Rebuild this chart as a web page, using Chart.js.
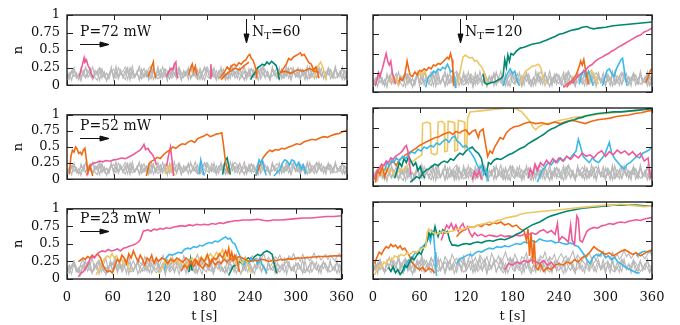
<!DOCTYPE html>
<html>
<head>
<meta charset="utf-8">
<script src="https://cdn.jsdelivr.net/npm/chart.js@4.4.1/dist/chart.umd.min.js"></script>
<style>
  body { margin: 0; background: #fff; }
  #fig { position: relative; width: 680px; height: 325px; overflow: hidden; font-family: "DejaVu Serif", serif; }
  #fig canvas { position: absolute; }
  .lab { position: absolute; font-size: 14px; line-height: 14px; color: #111; white-space: nowrap; }
  .lab .sub { font-size: 10px; position: relative; top: 3px; }
  #arrows { position: absolute; left: 0; top: 0; }
</style>
</head>
<body>
<div id="fig">
  <canvas id="c1" width="365" height="100" style="left:0;top:0"></canvas>
  <canvas id="c2" width="340" height="100" style="left:340px;top:0"></canvas>
  <canvas id="c3" width="365" height="94" style="left:0;top:100px"></canvas>
  <canvas id="c4" width="340" height="94" style="left:340px;top:100px"></canvas>
  <canvas id="c5" width="365" height="131" style="left:0;top:194px"></canvas>
  <canvas id="c6" width="340" height="131" style="left:340px;top:194px"></canvas>

  <div class="lab" style="left:80px;top:24px">P=72 mW</div>
  <div class="lab" style="left:80px;top:118px">P=52 mW</div>
  <div class="lab" style="left:80px;top:211px">P=23 mW</div>
  <div class="lab" style="left:252px;top:24px">N<span class="sub">T</span>=60</div>
  <div class="lab" style="left:465px;top:24px">N<span class="sub">T</span>=120</div>

  <svg id="arrows" width="680" height="325">
    <g stroke="#111" stroke-width="1" fill="#111">
      <line x1="80" y1="44.5" x2="104" y2="44.5"/><polygon points="109,44.5 100,42 100,47"/>
      <line x1="80" y1="138.5" x2="104" y2="138.5"/><polygon points="109,138.5 100,136 100,141"/>
      <line x1="80" y1="231.5" x2="104" y2="231.5"/><polygon points="109,231.5 100,229 100,234"/>
      <line x1="246.5" y1="19" x2="246.5" y2="38"/><polygon points="246.5,43 244,34 249,34"/>
      <line x1="460.5" y1="19" x2="460.5" y2="38"/><polygon points="460.5,43 458,34 463,34"/>
    </g>
  </svg>
</div>

<script>
// axis ticks and their labels
const xTicks = [0, 60, 120, 180, 240, 300, 360];
const xLabels = ['0', '60', '120', '180', '240', '300', '360'];
const yTicks = [0, 0.25, 0.5, 0.75, 1];
const yLabels = ['0', '0.25', '0.5', '0.75', '1'];

// gray background traces, one value every 3 s
const grayA = [
  0.10,0.18,0.07,0.22,0.13,0.09,0.20,0.15,0.26,0.11,
  0.17,0.08,0.21,0.14,0.24,0.10,0.19,0.06,0.16,0.23,
  0.12,0.27,0.09,0.18,0.13,0.21,0.08,0.25,0.15,0.11,
  0.20,0.07,0.17,0.24,0.12,0.19,0.09,0.22,0.14,0.26,
  0.10,0.16,0.23,0.08,0.20,0.13,0.27,0.11,0.18,0.07,
  0.21,0.15,0.25,0.09,0.17,0.12,0.22,0.08,0.19,0.26,
  0.13,0.10,0.24,0.16,0.07,0.20,0.14,0.23,0.11,0.18,
  0.09,0.25,0.15,0.21,0.08,0.17,0.27,0.12,0.19,0.10,
  0.22,0.14,0.07,0.24,0.16,0.11,0.20,0.09,0.26,0.13,
  0.18,0.08,0.23,0.15,0.21,0.10,0.17,0.25,0.12,0.19,
  0.07,0.22,0.14,0.27,0.11,0.16,0.09,0.24,0.18,0.13,
  0.20,0.08,0.25,0.15,0.10,0.22,0.17,0.12,0.26,0.09,
  0.18];
const grayB = [
  0.14,0.08,0.19,0.25,0.10,0.16,0.06,0.21,0.12,0.18,
  0.24,0.09,0.15,0.20,0.07,0.23,0.13,0.17,0.11,0.26,
  0.08,0.19,0.14,0.22,0.10,0.16,0.25,0.07,0.20,0.12,
  0.18,0.27,0.09,0.15,0.21,0.11,0.24,0.08,0.17,0.13,
  0.22,0.10,0.19,0.06,0.25,0.14,0.18,0.09,0.23,0.16,
  0.11,0.20,0.08,0.26,0.13,0.19,0.10,0.24,0.15,0.07,
  0.21,0.17,0.12,0.25,0.09,0.18,0.22,0.11,0.16,0.08,
  0.27,0.13,0.20,0.10,0.24,0.15,0.07,0.19,0.12,0.23,
  0.16,0.09,0.21,0.14,0.26,0.10,0.18,0.08,0.22,0.15,
  0.12,0.25,0.09,0.19,0.13,0.24,0.07,0.20,0.16,0.11,
  0.23,0.14,0.18,0.08,0.26,0.12,0.21,0.10,0.17,0.24,
  0.09,0.19,0.15,0.22,0.11,0.27,0.13,0.18,0.08,0.21,
  0.16];
const grayC = [
  0.09,0.15,0.21,0.12,0.18,0.08,0.24,0.14,0.10,0.20,
  0.16,0.26,0.11,0.07,0.19,0.23,0.13,0.17,0.09,0.22,
  0.15,0.10,0.25,0.18,0.12,0.08,0.20,0.14,0.27,0.11,
  0.17,0.09,0.23,0.13,0.19,0.07,0.16,0.24,0.10,0.21,
  0.14,0.26,0.12,0.18,0.09,0.22,0.15,0.11,0.25,0.08,
  0.19,0.13,0.23,0.10,0.17,0.27,0.12,0.20,0.08,0.16,
  0.24,0.11,0.18,0.14,0.21,0.09,0.26,0.13,0.07,0.19,
  0.15,0.22,0.10,0.17,0.25,0.12,0.20,0.08,0.23,0.14,
  0.11,0.18,0.26,0.09,0.16,0.21,0.13,0.07,0.24,0.19,
  0.10,0.15,0.22,0.12,0.27,0.17,0.09,0.20,0.14,0.25,
  0.11,0.18,0.08,0.23,0.13,0.21,0.16,0.10,0.26,0.12,
  0.19,0.14,0.22,0.09,0.17,0.24,0.11,0.20,0.15,0.08,
  0.13];
const grayD = [
  0.12,0.20,0.15,0.26,0.18,0.10,0.22,0.28,0.16,0.24,
  0.19,0.30,0.14,0.23,0.27,0.17,0.21,0.29,0.13,0.25,
  0.20,0.31,0.18,0.24,0.15,0.28,0.22,0.33,0.19,0.26,
  0.17,0.29,0.23,0.20,0.32,0.25,0.18,0.27,0.22,0.30,
  0.16,0.24,0.34,0.21,0.28,0.19,0.31,0.25,0.22,0.29,
  0.18,0.33,0.26,0.23,0.30,0.20,0.27,0.35,0.24,0.28,
  0.21,0.32,0.25,0.19,0.29,0.26,0.34,0.22,0.28,0.31,
  0.24,0.20,0.30,0.27,0.35,0.23,0.29,0.25,0.32,0.21,
  0.28,0.33,0.26,0.30,0.22,0.29,0.36,0.25,0.31,0.27,
  0.23,0.32,0.28,0.34,0.26,0.30,0.24,0.33,0.29,0.36,
  0.27,0.31,0.25,0.35,0.28,0.32,0.26,0.30,0.37,0.29,
  0.33,0.27,0.31,0.35,0.28,0.34,0.30,0.26,0.32,0.36,
  0.30];
const grayE = [
  0.16,0.12,0.19,0.22,0.14,0.09,0.12,0.18,0.24,0.20,
  0.13,0.10,0.15,0.21,0.25,0.17,0.11,0.08,0.14,0.19,
  0.23,0.18,0.12,0.16,0.20,0.26,0.21,0.14,0.10,0.13,
  0.18,0.22,0.17,0.11,0.15,0.24,0.27,0.19,0.13,0.09,
  0.12,0.17,0.23,0.20,0.15,0.10,0.14,0.21,0.25,0.18,
  0.12,0.16,0.20,0.24,0.19,0.13,0.08,0.12,0.18,0.22,
  0.26,0.20,0.15,0.11,0.14,0.19,0.23,0.17,0.12,0.10,
  0.15,0.21,0.26,0.22,0.16,0.12,0.09,0.14,0.20,0.24,
  0.18,0.13,0.17,0.22,0.27,0.21,0.15,0.11,0.13,0.19,
  0.24,0.20,0.14,0.10,0.16,0.21,0.25,0.19,0.12,0.15,
  0.20,0.23,0.17,0.11,0.09,0.14,0.20,0.26,0.22,0.16,
  0.12,0.18,0.24,0.21,0.15,0.10,0.13,0.19,0.23,0.17,
  0.14];

// P=72 mW, N_T=60  ([t, n] pairs)
const tlPink1 = [[16,0.12],[18,0.22],[20,0.3],[22,0.39],[23,0.33],[25,0.36],[27,0.28],[29,0.24],[31,0.17],[34,0.1]];
const tlOrange1 = [[104,0.12],[107,0.2],[109,0.27],[111,0.33],[112,0.2],[114,0.1]];
const tlPink2 = [[128,0.12],[131,0.2],[134,0.24],[136,0.22],[138,0.3],[140,0.33],[141,0.15],[143,0.1]];
const tlOrange2 = [[156,0.14],[159,0.24],[161,0.3],[163,0.2],[165,0.27],[167,0.14]];
const tlPink3 = [[184,0.1],[185,0.3],[186,0.12]];
const tlOrange3 = [[196,0.1],[200,0.15],[203,0.2],[206,0.26],[209,0.22],[212,0.28],[215,0.3],[218,0.27],[221,0.32],[224,0.3],[227,0.34],[230,0.36],[233,0.42],[235,0.44],[237,0.38],[239,0.36],[241,0.3],[243,0.22],[244,0.1]];
const tlOrange4 = [[198,0.08],[204,0.15],[210,0.2],[216,0.24],[222,0.22],[228,0.28],[234,0.33]];
const tlTeal1 = [[236,0.08],[239,0.14],[242,0.18],[245,0.25],[248,0.27],[251,0.3],[254,0.28],[257,0.33],[260,0.3],[263,0.34],[266,0.31],[269,0.28],[271,0.2],[273,0.08]];
const tlOrange5 = [[272,0.15],[276,0.2],[279,0.25],[282,0.3],[285,0.38],[288,0.36],[291,0.4],[294,0.42],[297,0.44],[300,0.46],[302,0.42],[305,0.44],[308,0.38],[311,0.32],[314,0.3],[317,0.22],[320,0.26],[322,0.18],[324,0.1]];
const tlOrange6 = [[274,0.18],[280,0.2],[288,0.17],[296,0.22],[304,0.2],[312,0.24],[318,0.2],[324,0.18]];
const tlYellow1 = [[318,0.1],[320,0.2],[323,0.28],[326,0.33],[328,0.28],[330,0.22],[332,0.14],[334,0.08]];

// P=72 mW, N_T=120
const trPink1 = [[3,0.08],[5,0.15],[7,0.25],[9,0.2],[12,0.3],[15,0.42],[17,0.5],[19,0.4],[21,0.35],[23,0.4],[25,0.25],[27,0.18],[29,0.1]];
const trYellow1 = [[22,0.12],[25,0.2],[28,0.15],[31,0.18],[33,0.08]];
const trOrange1 = [[32,0.1],[35,0.18],[38,0.15],[41,0.22],[44,0.4],[46,0.3],[48,0.22],[51,0.2],[54,0.26],[57,0.22],[60,0.28],[63,0.27],[66,0.3],[69,0.28],[72,0.32],[75,0.3],[78,0.35],[81,0.34],[84,0.37],[87,0.36],[90,0.39],[93,0.42],[96,0.45],[98,0.43],[100,0.5],[102,0.42],[103,0.3],[104,0.08]];
const trYellow2 = [[58,0.2],[61,0.25],[64,0.22],[67,0.27],[69,0.2]];
const trBlue1 = [[68,0.06],[70,0.15],[72,0.2],[75,0.22],[78,0.27],[81,0.25],[84,0.3],[87,0.28],[90,0.32],[93,0.3],[96,0.36],[98,0.32],[100,0.26],[103,0.28],[105,0.18],[107,0.05]];
const trYellow3 = [[110,0.12],[113,0.3],[116,0.45],[119,0.48],[122,0.46],[125,0.44],[128,0.45],[131,0.4],[134,0.41],[137,0.36],[140,0.33],[143,0.26],[145,0.2],[147,0.12]];
const trTeal1 = [[142,0.24],[144,0.12],[147,0.1],[152,0.12],[157,0.13],[162,0.16],[166,0.18],[168,0.22],[170,0.42],[172,0.32],[174,0.48],[176,0.4],[178,0.5],[181,0.48],[185,0.53],[190,0.57],[195,0.58],[200,0.6],[205,0.62],[210,0.63],[215,0.64],[220,0.66],[225,0.68],[230,0.7],[235,0.72],[240,0.75],[245,0.76],[250,0.78],[255,0.8],[260,0.81],[265,0.82],[270,0.84],[276,0.85],[280,0.83],[285,0.82],[290,0.83],[300,0.84],[310,0.86],[320,0.87],[330,0.88],[340,0.89],[350,0.9],[360,0.91]];
const trBlue2 = [[168,0.08],[171,0.18],[174,0.25],[177,0.3],[180,0.24],[183,0.27],[186,0.15],[189,0.08]];
const trYellow4 = [[190,0.1],[193,0.2],[197,0.27],[201,0.3],[205,0.33],[209,0.34],[213,0.36],[216,0.33],[219,0.22],[222,0.1]];
const trPink2 = [[246,0.06],[250,0.1],[254,0.13],[258,0.12],[262,0.18],[266,0.22],[270,0.25],[274,0.28],[278,0.33],[283,0.36],[287,0.4],[291,0.43],[295,0.45],[300,0.48],[304,0.5],[308,0.53],[312,0.55],[316,0.58],[320,0.6],[325,0.63],[330,0.66],[335,0.69],[340,0.72],[345,0.74],[350,0.78],[355,0.8],[360,0.83]];
const trOrange2 = [[250,0.06],[254,0.12],[258,0.16],[262,0.22],[265,0.3],[268,0.4],[270,0.35],[272,0.42],[274,0.3],[276,0.2],[278,0.1]];
const trBlue3 = [[266,0.1],[269,0.22],[272,0.28],[275,0.2],[278,0.27],[281,0.18],[284,0.08]];
const trYellow5 = [[276,0.12],[279,0.25],[282,0.28],[285,0.22],[288,0.18],[291,0.1]];
const trBlue4 = [[296,0.08],[299,0.18],[302,0.28],[305,0.3],[308,0.24],[311,0.2],[314,0.3],[317,0.36],[320,0.42],[322,0.44],[324,0.3],[326,0.18],[328,0.08]];
const trOrange3 = [[352,0.12],[355,0.2],[358,0.28],[360,0.3]];

// P=52 mW, N_T=60
const mlOrange1 = [[3,0.08],[5,0.35],[7,0.45],[9,0.42],[11,0.5],[13,0.47],[15,0.4],[17,0.42],[19,0.38],[21,0.45],[23,0.48],[25,0.3],[27,0.1],[29,0.2],[31,0.15],[33,0.05]];
const mlPink1 = [[25,0.06],[28,0.15],[31,0.22],[34,0.25],[38,0.26],[42,0.28],[46,0.27],[50,0.29],[55,0.28],[60,0.3],[65,0.31],[70,0.33],[75,0.32],[80,0.35],[85,0.38],[90,0.42],[94,0.45],[97,0.5],[99,0.54],[101,0.46],[104,0.48],[107,0.42],[110,0.38],[113,0.3],[115,0.22]];
const mlOrange2 = [[102,0.05],[104,0.15],[106,0.25],[109,0.28],[112,0.3],[116,0.34],[120,0.32],[124,0.38],[128,0.42],[132,0.45],[136,0.5],[140,0.48],[144,0.52],[148,0.55],[152,0.54],[156,0.58],[160,0.6],[164,0.57],[168,0.63],[172,0.65],[176,0.67],[180,0.7],[184,0.66],[188,0.68],[192,0.7],[196,0.71],[199,0.72],[201,0.55],[203,0.35],[205,0.2],[208,0.1]];
const mlPink2 = [[128,0.2],[131,0.4],[133,0.5],[135,0.3],[137,0.05]];
const mlYellow1 = [[126,0.08],[128,0.15],[130,0.2],[132,0.14],[134,0.22],[136,0.12],[139,0.06]];
const mlBlue1 = [[170,0.08],[172,0.3],[174,0.2],[176,0.06]];
const mlTeal1 = [[200,0.07],[202,0.2],[204,0.3],[206,0.33],[208,0.2],[210,0.07]];
const mlBlue2 = [[243,0.05],[245,0.2],[247,0.3],[249,0.25],[251,0.3],[253,0.2],[256,0.06]];
const mlOrange3 = [[243,0.05],[246,0.15],[249,0.25],[252,0.33],[255,0.38],[258,0.42],[261,0.45],[264,0.43],[268,0.46],[272,0.45],[276,0.48],[280,0.47],[285,0.5],[290,0.52],[295,0.55],[300,0.54],[305,0.58],[310,0.6],[315,0.62],[320,0.61],[325,0.64],[330,0.66],[335,0.65],[340,0.68],[345,0.7],[350,0.71],[355,0.74],[360,0.76]];
const mlBlue3 = [[266,0.05],[270,0.1],[274,0.15],[277,0.25],[280,0.3],[283,0.28],[286,0.22],[289,0.3],[292,0.28],[295,0.2],[298,0.26],[301,0.15],[304,0.22],[307,0.08]];

// P=52 mW, N_T=120
const mrYellow = [[3,0.04],[6,0.12],[9,0.2],[12,0.15],[16,0.22],[20,0.17],[24,0.2],[28,0.14],[32,0.18],[36,0.22],[40,0.2],[44,0.26],[48,0.3],[52,0.32],[56,0.35],[60,0.38],[63,0.4],[64,0.8],[70,0.82],[74,0.8],[75,0.42],[80,0.4],[83,0.42],[84,0.82],[89,0.83],[92,0.8],[92.5,0.44],[96,0.45],[97,0.83],[103,0.82],[105,0.81],[105.5,0.45],[109,0.46],[110,0.84],[115,0.83],[118,0.82],[118.5,0.48],[121,0.5],[122,0.86],[125,0.95],[135,0.96],[145,0.97],[155,0.98],[165,0.99],[175,1.0],[185,0.99],[192,0.95],[198,0.88],[203,0.82],[207,0.75],[210,0.72],[214,0.76],[220,0.79],[230,0.81],[240,0.84],[250,0.86],[260,0.88],[270,0.89],[280,0.9],[290,0.92],[300,0.93],[310,0.94],[320,0.95],[330,0.96],[340,0.97],[350,0.98],[360,0.99]];
const mrOrange = [[3,0.05],[6,0.2],[9,0.15],[12,0.25],[15,0.12],[18,0.2],[22,0.28],[26,0.32],[30,0.26],[34,0.34],[38,0.36],[42,0.4],[46,0.42],[50,0.45],[55,0.48],[60,0.52],[64,0.54],[68,0.56],[72,0.58],[76,0.6],[80,0.62],[85,0.63],[90,0.66],[95,0.68],[99,0.69],[103,0.66],[107,0.7],[112,0.68],[116,0.71],[120,0.72],[124,0.66],[128,0.7],[132,0.72],[136,0.62],[138,0.7],[142,0.73],[145,0.55],[148,0.38],[151,0.45],[154,0.42],[157,0.5],[160,0.55],[164,0.62],[168,0.6],[172,0.68],[177,0.73],[182,0.76],[188,0.77],[195,0.8],[202,0.82],[210,0.8],[218,0.81],[226,0.79],[234,0.82],[242,0.8],[250,0.83],[258,0.84],[266,0.82],[274,0.8],[282,0.83],[290,0.85],[298,0.86],[306,0.87],[314,0.89],[322,0.9],[330,0.91],[338,0.93],[346,0.94],[354,0.96],[360,0.97]];
const mrPink1 = [[2,0.08],[5,0.2],[8,0.22],[11,0.28],[14,0.26],[17,0.32],[20,0.3],[23,0.36],[26,0.34],[29,0.38],[32,0.4],[35,0.42],[38,0.45],[41,0.5],[43,0.52],[45,0.45],[47,0.3],[49,0.15]];
const mrPink2 = [[128,0.08],[131,0.18],[134,0.12],[137,0.2],[140,0.08]];
const mrPink3 = [[200,0.1],[203,0.22],[206,0.15],[209,0.28],[212,0.2],[216,0.3],[220,0.26],[224,0.33],[228,0.28],[232,0.35],[236,0.3],[240,0.36],[245,0.32],[250,0.38],[255,0.34],[260,0.4],[265,0.36],[270,0.42],[275,0.38],[280,0.4],[285,0.36],[290,0.42],[295,0.45],[300,0.38],[305,0.44],[310,0.4],[315,0.46],[320,0.42],[325,0.45],[330,0.4],[335,0.44],[340,0.38],[345,0.42],[350,0.32],[355,0.36],[358,0.1]];
const mrBlue1 = [[15,0.2],[18,0.3],[21,0.26],[24,0.33],[27,0.3],[30,0.36],[34,0.32],[38,0.38],[42,0.35],[46,0.4],[50,0.44],[54,0.42],[58,0.47],[62,0.45],[66,0.5],[70,0.48],[74,0.52],[78,0.5],[82,0.55],[86,0.53],[90,0.57],[94,0.6],[98,0.56],[102,0.62],[106,0.64],[108,0.58],[112,0.55],[116,0.5],[120,0.52],[124,0.46],[128,0.4],[131,0.35],[134,0.28],[137,0.22],[140,0.26],[143,0.15],[146,0.2],[149,0.06]];
const mrBlue2 = [[212,0.05],[215,0.12],[218,0.2],[222,0.24],[226,0.3],[230,0.27],[234,0.33],[238,0.3],[242,0.36],[246,0.32],[250,0.38],[254,0.35],[258,0.4],[262,0.45],[265,0.6],[268,0.5],[271,0.38],[275,0.34],[279,0.3],[283,0.36],[287,0.32],[291,0.3],[295,0.35],[299,0.4],[302,0.48],[305,0.56],[308,0.42],[312,0.35],[316,0.3],[320,0.25],[324,0.22],[328,0.28],[332,0.3],[336,0.34],[340,0.38],[344,0.36],[348,0.42],[352,0.44],[356,0.46],[360,0.5]];
const mrTeal1 = [[28,0.1],[31,0.2],[34,0.3],[37,0.25],[40,0.35],[43,0.3],[46,0.38],[49,0.32],[52,0.26],[55,0.3],[58,0.2],[61,0.25],[64,0.15],[67,0.1]];
const mrTeal2 = [[48,0.05],[52,0.08],[56,0.12],[60,0.1],[64,0.16],[68,0.2],[72,0.22],[76,0.25],[80,0.28],[84,0.26],[88,0.3],[92,0.32],[96,0.3],[100,0.35],[104,0.33],[108,0.38],[112,0.42],[116,0.4],[120,0.45],[124,0.48],[128,0.5],[132,0.45],[136,0.42],[140,0.35],[143,0.2],[146,0.14],[149,0.3],[152,0.28],[156,0.33],[160,0.35],[165,0.34],[170,0.37],[175,0.4],[180,0.42],[185,0.45],[190,0.48],[195,0.5],[200,0.54],[205,0.57],[210,0.6],[215,0.63],[220,0.66],[225,0.7],[230,0.73],[235,0.75],[240,0.78],[245,0.8],[250,0.82],[255,0.84],[260,0.85],[265,0.87],[270,0.88],[275,0.9],[280,0.91],[290,0.93],[300,0.94],[310,0.95],[320,0.95],[330,0.96],[340,0.97],[350,0.98],[360,0.99]];

// P=23 mW, N_T=60
const blPink = [[15,0.03],[18,0.08],[21,0.1],[24,0.15],[27,0.2],[30,0.28],[33,0.32],[36,0.3],[39,0.35],[42,0.38],[46,0.4],[50,0.39],[54,0.42],[58,0.4],[62,0.41],[66,0.43],[70,0.4],[74,0.44],[78,0.45],[82,0.47],[86,0.48],[90,0.5],[94,0.53],[96,0.56],[98,0.62],[100,0.68],[103,0.69],[106,0.7],[110,0.68],[114,0.71],[118,0.7],[122,0.72],[126,0.71],[130,0.73],[135,0.72],[140,0.74],[145,0.75],[150,0.76],[155,0.75],[160,0.77],[165,0.76],[170,0.78],[175,0.77],[180,0.78],[185,0.77],[190,0.79],[195,0.78],[200,0.8],[205,0.79],[210,0.81],[215,0.82],[220,0.83],[225,0.83],[230,0.84],[240,0.84],[250,0.85],[255,0.84],[260,0.83],[265,0.83],[270,0.84],[280,0.84],[290,0.85],[300,0.86],[310,0.87],[320,0.87],[330,0.88],[340,0.89],[350,0.89],[360,0.9]];
const blOrange1 = [[15,0.25],[18,0.27],[21,0.3],[24,0.28],[27,0.32],[30,0.3],[33,0.34],[36,0.31],[40,0.36],[44,0.3],[47,0.2],[50,0.14],[53,0.1],[56,0.12],[60,0.08]];
const blOrange2 = [[60,0.1],[63,0.2],[66,0.28],[69,0.24],[72,0.34],[75,0.3],[78,0.22],[81,0.36],[84,0.3],[87,0.4],[90,0.32],[93,0.25],[96,0.34],[99,0.28],[102,0.2],[105,0.3],[108,0.26],[111,0.34],[114,0.22],[117,0.3],[120,0.25],[124,0.3],[128,0.28],[132,0.22],[136,0.28],[140,0.25],[144,0.3],[148,0.27],[152,0.24],[156,0.3],[160,0.26],[164,0.22],[168,0.28],[172,0.2],[176,0.3],[180,0.25],[184,0.35],[188,0.22],[192,0.3],[196,0.28],[200,0.36],[204,0.3],[208,0.4],[210,0.34],[212,0.44],[214,0.3],[216,0.38],[218,0.28],[220,0.34],[222,0.3],[224,0.22],[226,0.1]];
const blOrange3 = [[150,0.12],[154,0.2],[158,0.15],[162,0.24],[166,0.18],[170,0.26],[174,0.2],[178,0.15],[182,0.22],[186,0.18],[190,0.28],[194,0.2],[198,0.25],[202,0.22],[206,0.28],[210,0.24],[214,0.3],[218,0.26],[222,0.3],[226,0.32],[230,0.3],[235,0.27],[240,0.25],[245,0.27],[250,0.26],[255,0.28],[260,0.27],[265,0.25],[270,0.27],[275,0.26],[280,0.28],[285,0.27],[290,0.29],[295,0.28],[300,0.3],[310,0.3],[320,0.31],[330,0.32],[340,0.32],[350,0.33],[360,0.33]];
const blYellow1 = [[38,0.06],[41,0.12],[44,0.2],[47,0.25],[50,0.3],[53,0.33],[56,0.3],[59,0.36],[62,0.3],[65,0.33],[68,0.25],[71,0.3],[74,0.22],[77,0.27],[80,0.18],[83,0.12]];
const blYellow2 = [[120,0.08],[124,0.15],[128,0.25],[132,0.2],[136,0.3],[140,0.22],[144,0.28],[148,0.2],[152,0.25],[156,0.18],[160,0.24],[164,0.3],[168,0.22],[172,0.26],[176,0.32],[180,0.24],[184,0.3],[188,0.36],[192,0.3],[196,0.38],[200,0.33],[204,0.42],[207,0.3],[210,0.36],[214,0.28],[218,0.32],[222,0.2],[226,0.28],[230,0.22],[234,0.3],[238,0.18],[241,0.08]];
const blBlue1 = [[128,0.12],[130,0.3],[134,0.35],[138,0.34],[142,0.36],[146,0.38],[150,0.37],[154,0.42],[158,0.44],[162,0.43],[166,0.46],[170,0.45],[174,0.48],[178,0.47],[182,0.5],[186,0.52],[190,0.51],[194,0.54],[198,0.53],[202,0.56],[205,0.58],[208,0.6],[211,0.57],[214,0.58],[217,0.52],[220,0.5],[223,0.42],[226,0.35],[229,0.25],[232,0.2],[235,0.26],[238,0.22],[241,0.3],[244,0.25],[247,0.28],[250,0.22],[253,0.3],[256,0.2],[259,0.15],[262,0.08]];
const blTeal1 = [[160,0.1],[162,0.28],[164,0.12]];
const blTeal2 = [[212,0.05],[215,0.12],[218,0.18],[222,0.2],[226,0.25],[230,0.22],[234,0.28],[238,0.3],[242,0.26],[246,0.32],[250,0.35],[254,0.33],[258,0.38],[262,0.4],[266,0.38],[269,0.35],[272,0.2],[275,0.08]];

// P=23 mW, N_T=120
const brYellow = [[2,0.05],[5,0.12],[8,0.18],[11,0.15],[14,0.22],[17,0.2],[20,0.26],[24,0.24],[28,0.3],[32,0.28],[36,0.32],[40,0.3],[44,0.34],[48,0.32],[52,0.36],[56,0.34],[60,0.38],[64,0.4],[68,0.42],[70,0.6],[72,0.65],[75,0.62],[78,0.6],[82,0.58],[86,0.6],[90,0.62],[95,0.6],[100,0.62],[105,0.63],[110,0.65],[115,0.64],[120,0.66],[125,0.68],[130,0.67],[135,0.7],[140,0.71],[145,0.72],[150,0.74],[155,0.73],[160,0.76],[165,0.77],[170,0.79],[175,0.8],[180,0.81],[185,0.82],[190,0.84],[195,0.85],[200,0.86],[210,0.87],[220,0.88],[230,0.89],[240,0.9],[250,0.91],[260,0.92],[270,0.93],[280,0.94],[290,0.95],[300,0.96],[310,0.96],[320,0.97],[330,0.96],[340,0.95],[350,0.94],[360,0.95]];
const brTeal = [[20,0.15],[23,0.1],[26,0.16],[29,0.08],[32,0.12],[35,0.06],[38,0.1],[41,0.18],[44,0.15],[47,0.22],[50,0.28],[53,0.25],[56,0.3],[59,0.35],[62,0.32],[65,0.4],[68,0.45],[70,0.5],[72,0.6],[74,0.55],[76,0.62],[78,0.58],[80,0.68],[82,0.6],[84,0.55],[86,0.62],[88,0.6],[90,0.64],[93,0.6],[96,0.62],[99,0.5],[102,0.44],[105,0.44],[110,0.43],[115,0.45],[120,0.46],[125,0.45],[130,0.47],[135,0.48],[140,0.47],[145,0.49],[150,0.5],[155,0.49],[160,0.51],[165,0.52],[170,0.51],[175,0.53],[180,0.55],[185,0.58],[190,0.6],[195,0.64],[200,0.67],[205,0.7],[210,0.72],[215,0.74],[220,0.77],[225,0.8],[230,0.82],[240,0.85],[250,0.88],[260,0.9],[270,0.92],[280,0.93],[290,0.94],[300,0.95],[310,0.96],[320,0.96],[330,0.96],[340,0.96],[350,0.95],[360,0.95]];
const brPink1 = [[88,0.5],[92,0.62],[95,0.7],[98,0.66],[101,0.72],[104,0.64],[107,0.7],[110,0.62],[113,0.68],[116,0.72],[119,0.64],[122,0.68],[125,0.6],[128,0.55],[131,0.6],[135,0.56],[140,0.58],[145,0.55],[150,0.57],[155,0.56],[160,0.55],[165,0.57],[170,0.55],[175,0.56],[180,0.55],[185,0.57],[190,0.56],[195,0.58],[200,0.57],[205,0.6],[210,0.58],[215,0.62],[220,0.64],[225,0.6],[230,0.63],[235,0.58],[238,0.72],[240,0.5],[244,0.55],[248,0.52],[252,0.48],[255,0.7],[257,0.5],[260,0.45],[263,0.82],[265,0.78],[267,0.5],[270,0.48],[273,0.55],[276,0.62],[280,0.65],[285,0.67],[290,0.66],[295,0.69],[300,0.7],[305,0.72],[310,0.71],[315,0.73],[320,0.74],[325,0.73],[330,0.75],[335,0.76],[340,0.77],[345,0.76],[350,0.78],[355,0.79],[360,0.8]];
const brPink2 = [[170,0.12],[175,0.2],[180,0.18],[185,0.22],[190,0.2],[195,0.24],[200,0.22],[205,0.25],[210,0.22],[215,0.2],[220,0.24],[225,0.18],[230,0.22],[235,0.15]];
const brOrange1 = [[2,0.2],[5,0.28],[8,0.35],[11,0.32],[14,0.38],[17,0.42],[20,0.4],[23,0.45],[26,0.42],[29,0.44],[32,0.4],[35,0.43],[38,0.38],[41,0.4],[44,0.35],[47,0.3],[50,0.22],[53,0.18],[56,0.15],[60,0.12],[64,0.15],[68,0.1],[72,0.14],[76,0.12],[80,0.08]];
const brOrange2 = [[108,0.55],[112,0.6],[116,0.63],[120,0.65],[125,0.68],[130,0.67],[135,0.7],[140,0.68],[145,0.72],[150,0.7],[155,0.73],[160,0.72],[165,0.74],[170,0.7],[175,0.72],[180,0.68],[185,0.7],[190,0.65],[195,0.62],[198,0.5],[200,0.65],[202,0.3],[204,0.6],[206,0.2],[208,0.5],[210,0.15],[213,0.12],[216,0.2],[220,0.1],[225,0.15],[230,0.12],[235,0.18],[240,0.2],[245,0.18],[250,0.22],[255,0.2],[260,0.25],[265,0.22],[270,0.28],[275,0.3],[280,0.35],[285,0.42],[290,0.38],[295,0.35],[300,0.32],[305,0.34],[310,0.3],[315,0.33],[320,0.36],[325,0.38],[330,0.35],[335,0.32],[340,0.34],[345,0.3],[350,0.33],[355,0.36],[360,0.38]];
const brBlue1 = [[40,0.1],[43,0.2],[46,0.25],[49,0.22],[52,0.3],[55,0.35],[58,0.32],[61,0.4],[64,0.42],[67,0.45],[70,0.5],[72,0.55],[74,0.48],[76,0.58],[78,0.6],[80,0.35],[81,0.15],[82,0.04]];
const brBlue2 = [[108,0.2],[112,0.26],[116,0.28],[120,0.3],[124,0.32],[128,0.3],[132,0.34],[136,0.36],[140,0.35],[145,0.38],[150,0.4],[155,0.39],[160,0.42],[165,0.41],[170,0.43],[175,0.42],[180,0.44],[185,0.46],[190,0.45],[195,0.48],[200,0.47],[205,0.5],[210,0.48],[215,0.52],[220,0.5],[225,0.49],[230,0.5],[235,0.47],[240,0.48],[245,0.46],[250,0.45],[255,0.47],[260,0.44],[265,0.42],[270,0.35],[273,0.3],[276,0.25],[280,0.2],[284,0.28],[288,0.32],[292,0.3],[296,0.35],[300,0.28],[304,0.3],[308,0.25],[312,0.28],[316,0.22],[320,0.2],[324,0.16],[328,0.14],[332,0.12],[336,0.1],[340,0.08],[344,0.08]];
const brBlue3 = [[340,0.3],[345,0.34],[350,0.36],[355,0.35],[360,0.36]];

const PINK = '#ee5a98', ORANGE = '#ef6a16', TEAL = '#00876f', BLUE = '#3bb9ea', YELLOW = '#efc664', GRAY = '#b8b8b8';

const panels = [
  { id: 'c1', left: true, bottom: false, padTop: 15, axisH: 8, gray: [grayA, grayB, grayC, grayE],
    lines: [[tlPink1, PINK], [tlOrange1, ORANGE], [tlPink2, PINK], [tlOrange2, ORANGE], [tlPink3, PINK], [tlOrange3, ORANGE], [tlOrange4, ORANGE], [tlTeal1, TEAL], [tlOrange5, ORANGE], [tlOrange6, ORANGE], [tlYellow1, YELLOW]] },
  { id: 'c2', left: false, bottom: false, padTop: 15, axisH: 8, gray: [grayB, grayE, grayC, grayA],
    lines: [[trPink1, PINK], [trYellow1, YELLOW], [trOrange1, ORANGE], [trYellow2, YELLOW], [trBlue1, BLUE], [trYellow3, YELLOW], [trTeal1, TEAL], [trBlue2, BLUE], [trYellow4, YELLOW], [trPink2, PINK], [trOrange2, ORANGE], [trBlue3, BLUE], [trYellow5, YELLOW], [trBlue4, BLUE], [trOrange3, ORANGE]] },
  { id: 'c3', left: true, bottom: false, padTop: 8, axisH: 8, gray: [grayC, grayE, grayA, grayB],
    lines: [[mlOrange1, ORANGE], [mlPink1, PINK], [mlOrange2, ORANGE], [mlPink2, PINK], [mlYellow1, YELLOW], [mlBlue1, BLUE], [mlTeal1, TEAL], [mlBlue2, BLUE], [mlOrange3, ORANGE], [mlBlue3, BLUE]] },
  { id: 'c4', left: false, bottom: false, padTop: 8, axisH: 8, gray: [grayA, grayC, grayE, grayB],
    lines: [[mrPink3, PINK], [mrBlue2, BLUE], [mrPink1, PINK], [mrPink2, PINK], [mrBlue1, BLUE], [mrTeal1, TEAL], [mrTeal2, TEAL], [mrOrange, ORANGE], [mrYellow, YELLOW]] },
  { id: 'c5', left: true, bottom: true, padTop: 8, axisH: 46, gray: [grayB, grayE, grayA, grayD],
    lines: [[blPink, PINK], [blOrange1, ORANGE], [blOrange2, ORANGE], [blOrange3, ORANGE], [blYellow1, YELLOW], [blYellow2, YELLOW], [blBlue1, BLUE], [blTeal1, TEAL], [blTeal2, TEAL]] },
  { id: 'c6', left: false, bottom: true, padTop: 8, axisH: 46, gray: [grayC, grayD, grayE, grayA],
    lines: [[brYellow, YELLOW], [brTeal, TEAL], [brPink1, PINK], [brPink2, PINK], [brOrange1, ORANGE], [brOrange2, ORANGE], [brBlue1, BLUE], [brBlue2, BLUE], [brBlue3, BLUE]] }
];

// frame with inward ticks on all four sides
const framePlugin = {
  id: 'frame',
  afterDraw: function(chart) {
    const ctx = chart.ctx;
    const a = chart.chartArea;
    const x = chart.scales.x, y = chart.scales.y;
    ctx.save();
    ctx.strokeStyle = '#222';
    ctx.lineWidth = 1;
    ctx.beginPath();
    xTicks.forEach(function(v) {
      const px = Math.round(x.getPixelForValue(v)) + 0.5;
      ctx.moveTo(px, a.bottom); ctx.lineTo(px, a.bottom - 5);
      ctx.moveTo(px, a.top); ctx.lineTo(px, a.top + 5);
    });
    yTicks.forEach(function(v) {
      const py = Math.round(y.getPixelForValue(v)) + 0.5;
      ctx.moveTo(a.left, py); ctx.lineTo(a.left + 6, py);
      ctx.moveTo(a.right, py); ctx.lineTo(a.right - 6, py);
    });
    ctx.stroke();
    ctx.lineWidth = 1.4;
    ctx.strokeRect(a.left, a.top, a.right - a.left, a.bottom - a.top);
    ctx.restore();
  }
};

function makeChart(p) {
  const datasets = [];
  p.gray.forEach(function(vals) {
    datasets.push({
      data: vals.map(function(v, i) { return { x: i * 3, y: v }; }),
      borderColor: GRAY, borderWidth: 1.1, pointRadius: 0, order: 2
    });
  });
  p.lines.forEach(function(l) {
    datasets.push({
      data: l[0].map(function(pt) { return { x: pt[0], y: pt[1] }; }),
      borderColor: l[1], borderWidth: 1.6, pointRadius: 0, order: 1
    });
  });

  const font = { family: '"DejaVu Serif", serif', size: 13 };
  new Chart(document.getElementById(p.id), {
    type: 'line',
    data: { datasets: datasets },
    options: {
      responsive: false,
      animation: false,
      devicePixelRatio: 1,
      layout: { padding: { top: p.padTop, bottom: 0, left: p.left ? 0 : 33, right: p.left ? 18 : 28 } },
      plugins: { legend: { display: false }, tooltip: { enabled: false } },
      scales: {
        x: {
          type: 'linear', min: 0, max: 360,
          afterBuildTicks: function(s) { s.ticks = xTicks.map(function(v) { return { value: v }; }); },
          ticks: { display: p.bottom, font: font, color: '#111', padding: 11, maxRotation: 0, autoSkip: false,
                   callback: function(v, i) { return xLabels[i]; } },
          grid: { display: false, drawTicks: false },
          border: { display: false },
          title: { display: p.bottom, text: 't [s]', font: font, color: '#111', padding: { top: 0, bottom: 1 } },
          afterFit: function(s) { s.height = p.axisH; }
        },
        y: {
          min: 0, max: 1,
          afterBuildTicks: function(s) { s.ticks = yTicks.map(function(v) { return { value: v }; }); },
          ticks: { display: p.left, font: font, color: '#111', padding: 7, autoSkip: false,
                   callback: function(v, i) { return yLabels[i]; } },
          grid: { display: false, drawTicks: false },
          border: { display: false },
          title: { display: p.left, text: 'n', font: font, color: '#111', padding: { top: 11, bottom: 0 } },
          afterFit: function(s) { s.width = p.left ? 67 : 0; }
        }
      }
    },
    plugins: [framePlugin]
  });
}

panels.forEach(makeChart);
</script>
</body>
</html>
